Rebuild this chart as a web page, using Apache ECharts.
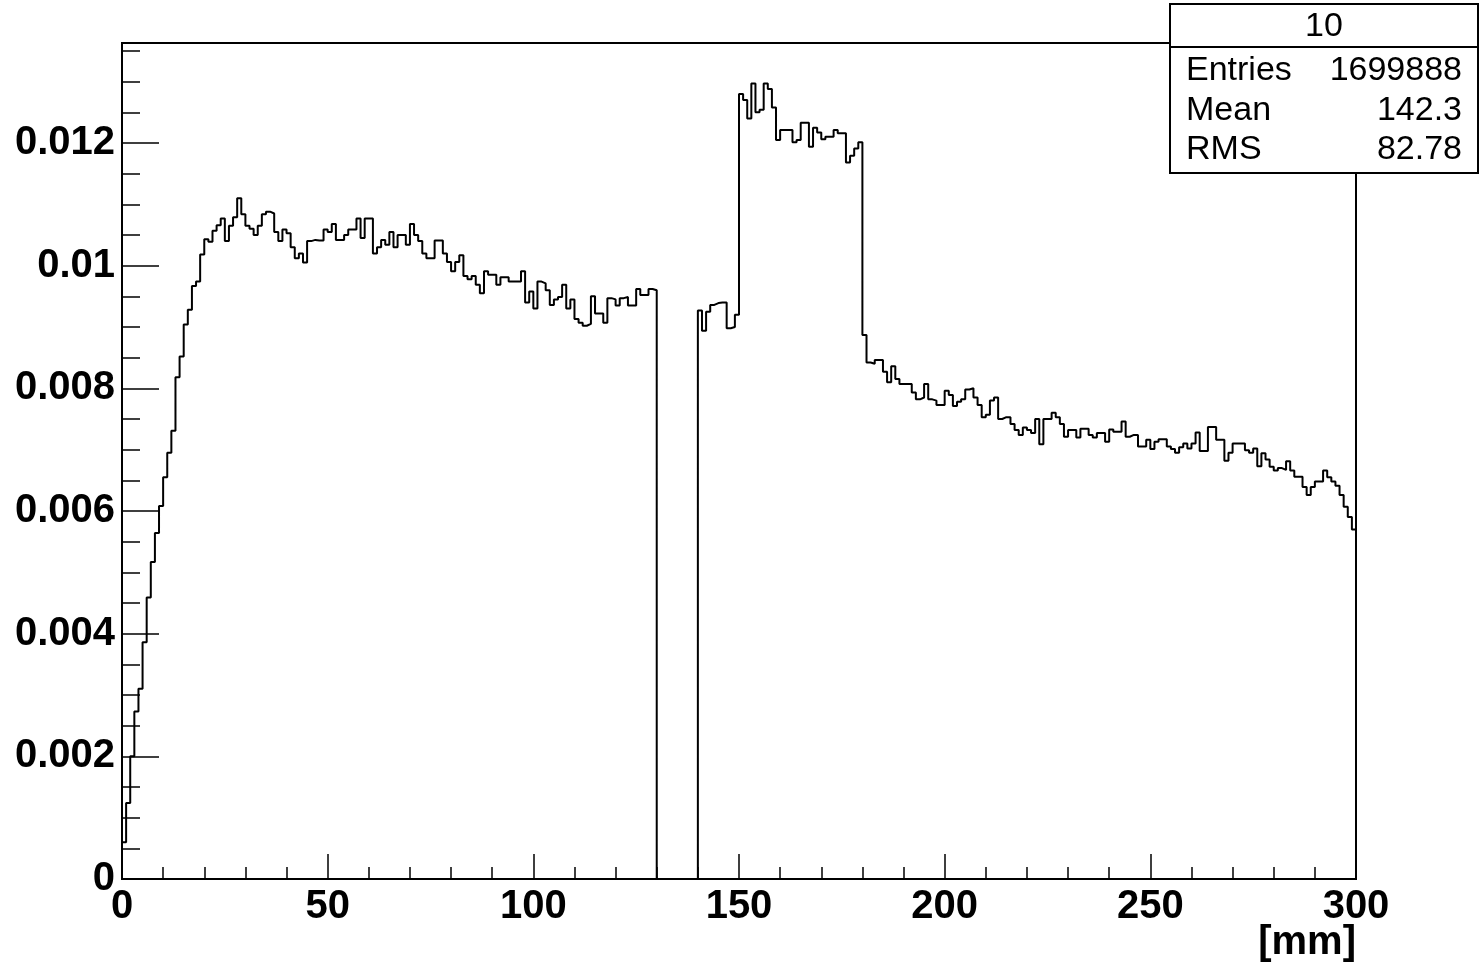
<!DOCTYPE html>
<html>
<head>
<meta charset="utf-8">
<script src="https://cdn.jsdelivr.net/npm/echarts@6/dist/echarts.min.js"></script>
<style>
  html, body { margin: 0; padding: 0; background: #fff; }
  #chart { width: 1481px; height: 967px; }
</style>
</head>
<body>
<div id="chart"></div>
<script>
// bin width in mm, histogram covers 0..300
const binWidth = 1;
const xMin = 0;
const xMax = 300;
const yMax = 0.01363;

// bin contents 0..129 mm
const countsLeft = [
  0.0006, 0.00124, 0.0020, 0.00273, 0.0031, 0.00386, 0.00459, 0.00517, 0.00564, 0.00608,
  0.00655, 0.00695, 0.00731, 0.00818, 0.00852, 0.00904, 0.00928, 0.00967, 0.00974, 0.01018,
  0.01043, 0.01039, 0.01057, 0.01066, 0.01077, 0.0104, 0.01065, 0.01079, 0.0111, 0.01084,
  0.01065, 0.0106, 0.0105, 0.01065, 0.01084, 0.01088, 0.01085, 0.01055, 0.0104, 0.01059,
  0.01053, 0.0103, 0.01012, 0.0102, 0.01005, 0.0104, 0.01042, 0.01041, 0.01041, 0.01059,
  0.01055, 0.01068, 0.01042, 0.01042, 0.0105, 0.01059, 0.01059, 0.01077, 0.01045, 0.01077,
  0.01077, 0.0102, 0.0103, 0.01042, 0.01034, 0.01055, 0.0103, 0.0105, 0.0105, 0.01034,
  0.01068, 0.0105, 0.0104, 0.0102, 0.01012, 0.01012, 0.01041, 0.01041, 0.0102, 0.01006,
  0.00991, 0.01006, 0.01017, 0.00983, 0.00978, 0.00983, 0.00969, 0.00955, 0.00991, 0.00985,
  0.00985, 0.00969, 0.00981, 0.00981, 0.00974, 0.00974, 0.00974, 0.00991, 0.0094, 0.00958,
  0.0093, 0.00974, 0.00971, 0.0096, 0.00936, 0.00945, 0.00949, 0.00969, 0.0093, 0.00945,
  0.00913, 0.00907, 0.00902, 0.00905, 0.0095, 0.00922, 0.00922, 0.00907, 0.00947, 0.00945,
  0.00935, 0.00947, 0.00949, 0.00935, 0.00935, 0.00962, 0.00952, 0.00952, 0.00962, 0.0096
];
// 130..139 mm: empty
const countsGap = [0, 0, 0, 0, 0, 0, 0, 0, 0, 0];
// 140..299 mm
const countsRight = [
  0.00927, 0.00894, 0.00925, 0.00936, 0.00939, 0.0094, 0.0094, 0.00898, 0.009, 0.0092,
  0.0128, 0.0127, 0.0124, 0.01297, 0.0125, 0.01254, 0.01297, 0.01288, 0.01258, 0.01205,
  0.01221, 0.01221, 0.01221, 0.01201, 0.01205, 0.01233, 0.01233, 0.01194, 0.01225, 0.01217,
  0.01206, 0.0121, 0.0121, 0.01221, 0.01216, 0.01216, 0.01168, 0.01179, 0.01191, 0.01201,
  0.00887, 0.00842, 0.0084, 0.00846, 0.00846, 0.00827, 0.0081, 0.00836, 0.00815, 0.00807,
  0.00807, 0.00807, 0.00793, 0.00782, 0.00785, 0.00807, 0.00782, 0.0078, 0.00773, 0.00773,
  0.00796, 0.00789, 0.00771, 0.00778, 0.00782, 0.00798, 0.008, 0.00785, 0.00773, 0.00753,
  0.00757, 0.0078, 0.00785, 0.0075, 0.00753, 0.00753, 0.00742, 0.00732, 0.00724, 0.00736,
  0.00732, 0.00727, 0.0075, 0.00709, 0.0075, 0.0075, 0.0076, 0.00753, 0.00742, 0.00721,
  0.00732, 0.00732, 0.0072, 0.00734, 0.00734, 0.00724, 0.0072, 0.00727, 0.00727, 0.00713,
  0.00733, 0.00729, 0.00729, 0.00746, 0.00721, 0.00724, 0.00724, 0.00705, 0.00705, 0.00716,
  0.00701, 0.00713, 0.00717, 0.00717, 0.00705, 0.00701, 0.00695, 0.00704, 0.0071, 0.00702,
  0.0071, 0.00728, 0.00698, 0.00698, 0.00737, 0.00737, 0.00716, 0.00716, 0.00682, 0.00695,
  0.0071, 0.0071, 0.0071, 0.00699, 0.00695, 0.00702, 0.00673, 0.00694, 0.00684, 0.00672,
  0.00666, 0.0067, 0.00667, 0.00681, 0.00666, 0.00656, 0.00656, 0.00639, 0.00626, 0.00639,
  0.00648, 0.00648, 0.00666, 0.00655, 0.00648, 0.00641, 0.00626, 0.00607, 0.0059, 0.0057
];

// stats box
const statsTitle = "10";
const statsNames = ["Entries", "Mean", "RMS"];
const statsValues = ["1699888", "142.3", "82.78"];
const xUnit = "[mm]";

const counts = countsLeft.concat(countsGap, countsRight);
// left bin edges, plus closing point at the upper edge
const points = counts.map(function (v, i) { return [xMin + i * binWidth, v]; });
points.push([xMax, counts[counts.length - 1]]);

const labelFont = "Liberation Sans";
const chart = echarts.init(document.getElementById("chart"));

const statsGraphics = [
  {
    type: "rect", z: 100,
    shape: { x: 1170, y: 4, width: 308, height: 169 },
    style: { fill: "#fff", stroke: "#000", lineWidth: 2 }
  },
  {
    type: "line", z: 101,
    shape: { x1: 1170, y1: 47, x2: 1478, y2: 47 },
    style: { stroke: "#000", lineWidth: 2 }
  },
  {
    type: "text", z: 101,
    style: {
      text: statsTitle, x: 1324, y: 27, fill: "#000",
      font: "34px " + labelFont, textAlign: "center", textVerticalAlign: "middle"
    }
  }
];
const rowY = [71, 111, 150];
statsNames.forEach(function (name, k) {
  statsGraphics.push({
    type: "text", z: 101,
    style: {
      text: name, x: 1186, y: rowY[k], fill: "#000",
      font: "34px " + labelFont, textAlign: "left", textVerticalAlign: "middle"
    }
  });
  statsGraphics.push({
    type: "text", z: 101,
    style: {
      text: statsValues[k], x: 1462, y: rowY[k], fill: "#000",
      font: "34px " + labelFont, textAlign: "right", textVerticalAlign: "middle"
    }
  });
});
statsGraphics.push({
  type: "text", z: 101,
  style: {
    text: xUnit, x: 1356, y: 943, fill: "#000",
    font: "bold 40px " + labelFont, textAlign: "right", textVerticalAlign: "middle"
  }
});

chart.setOption({
  animation: false,
  backgroundColor: "#fff",
  grid: {
    left: 122, right: 125, top: 43, bottom: 88,
    show: true, borderColor: "#000", borderWidth: 2, backgroundColor: "transparent"
  },
  xAxis: {
    type: "value",
    min: xMin,
    max: xMax,
    interval: 50,
    axisLine: { show: true, onZero: false, lineStyle: { color: "#000", width: 2 } },
    axisTick: { show: true, inside: true, length: 25, lineStyle: { color: "#000", width: 1.5 } },
    minorTick: { show: true, splitNumber: 5, length: 12, lineStyle: { color: "#000", width: 1.5 } },
    splitLine: { show: false },
    axisLabel: {
      color: "#000", fontFamily: labelFont, fontWeight: "bold", fontSize: 40, margin: 8
    }
  },
  yAxis: [
    {
      type: "value",
      min: 0,
      max: yMax,
      interval: 0.002,
      axisLine: { show: true, onZero: false, lineStyle: { color: "#000", width: 2 } },
      axisTick: { show: true, inside: true, length: 37, lineStyle: { color: "#000", width: 1.5 } },
      splitLine: { show: false },
      axisLabel: {
        color: "#000", fontFamily: labelFont, fontWeight: "bold", fontSize: 40, margin: 7,
        showMaxLabel: false
      }
    },
    {
      // minor ticks every 0.0005
      type: "value",
      position: "left",
      min: 0,
      max: yMax,
      interval: 0.0005,
      axisLine: { show: false },
      axisTick: { show: true, inside: true, length: 18, lineStyle: { color: "#000", width: 1.5 } },
      splitLine: { show: false },
      axisLabel: { show: false }
    }
  ],
  graphic: statsGraphics,
  series: [
    {
      type: "line",
      step: "end",
      data: points,
      showSymbol: false,
      symbol: "none",
      lineStyle: { color: "#000", width: 2 },
      z: 5
    }
  ]
});
</script>
</body>
</html>
